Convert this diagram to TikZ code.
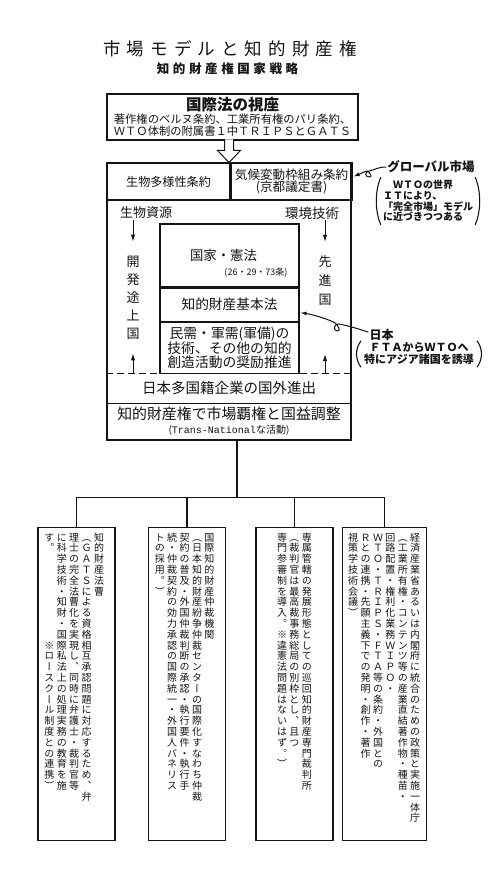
\documentclass[tikz,border=0pt]{standalone}
\usepackage{fontspec}
\setmainfont{Noto Sans CJK JP}
\newfontfamily\tatefont[RawFeature=+vert]{Noto Sans CJK JP}
\newfontfamily\latinmono{Liberation Mono}
\definecolor{ink}{RGB}{20, 20, 20}
\usetikzlibrary{arrows.meta, positioning, calc}
\makeatletter
% letter-spaced horizontal text
\newcommand\spread[2]{\def\spread@gap{#1}\spread@loop#2\relax\hskip-#1\relax}
\def\spread@loop#1{\ifx\relax#1\else#1\hskip\spread@gap\relax\expandafter\spread@loop\fi}
% one column of vertical text
\def\tate@loop#1{\ifx\relax#1\else\hbox to 10pt{\hss#1\hss}\expandafter\tate@loop\fi}
\newcommand\tatecol[1]{\vtop{\tatefont\fontsize{10}{10.8}\selectfont\lineskiplimit=-\maxdimen\tate@loop#1\relax}}
\makeatother
\newcommand\tsep{\hskip 2.4pt}
\newcommand\tatepanel[3][77pt]{\vbox to 313pt{\vskip 5pt\hbox to #1{\hss#3\hskip #2}\vss}}
\tikzset{
	wakubox/.style={rectangle, draw=ink, line width=1.1pt, inner sep=0pt},
	cell/.style={rectangle, draw=ink, line width=1.1pt, align=center, inner sep=1pt, text=ink},
	plain/.style={align=center, inner sep=1pt, text=ink},
	lawbox/.style={rectangle, draw=ink, line width=2pt, align=center, inner sep=1pt, minimum width=251pt, minimum height=46pt, text=ink},
	tatebox/.style={rectangle, draw=ink, line width=1.4pt, inner sep=0pt, minimum width=77pt, minimum height=313pt, anchor=north, text=ink},
	arrow/.style={-{Latex[length=7pt, width=4.5pt]}, line width=1pt, draw=ink},
	loopline/.style={-{Latex[length=6pt, width=4pt]}, line width=1pt, draw=ink},
	dashline/.style={dash pattern=on 7pt off 4pt, line width=1.1pt, draw=ink},
	hollow/.style={line width=1pt, draw=ink, fill=white},
	tree/.style={line width=1.3pt, draw=ink},
	paren/.style={line width=1.1pt, draw=ink},
}

\begin{document}
\begin{tikzpicture}[x=1pt, y=-1pt]
	\useasboundingbox (0,0) rectangle (500,876);
	% titles
	\node[plain, font=\fontsize{17.5}{20}\selectfont] (title) at (230,49) {\spread{6.1pt}{市場モデルと知的財産権}};
	\node[plain, font=\fontsize{12.5}{14}\selectfont\bfseries] (subtitle) at (227.5,69) {\spread{3.6pt}{知的財産権国家戦略}};
	\node[lawbox, font=\fontsize{11.3}{12}\selectfont] (kokusai) at (232.5,117) {{\fontsize{15.5}{16}\selectfont\bfseries 国際法の視座}\\[1pt]著作権のベルヌ条約、工業所有権のパリ条約、\\ＷＴＯ体制の附属書１中ＴＲＩＰＳとＧＡＴＳ};

	% market frame
	\node[wakubox, minimum width=244pt, minimum height=277pt] (waku) at (229,301.5) {};
	\node[cell, minimum width=123pt, minimum height=37pt, font=\fontsize{12.1}{13}\selectfont] (bio) at (168.5,181.5) {生物多様性条約};
	\node[cell, minimum width=121pt, minimum height=37pt, font=\fontsize{12.6}{12.5}\selectfont, right=0pt of bio] (kiko) {気候変動枠組み条約\\(京都議定書)};
	\node[plain, font=\fontsize{13}{14}\selectfont] (seibutsu) at (146,213) {生物資源};
	\node[plain, font=\fontsize{13.5}{14}\selectfont] (kankyo) at (312,213) {環境技術};
	\node[plain, font=\fontsize{13}{18}\selectfont] (kaihatsu) at (133,297.5) {開\\発\\途\\上\\国};
	\node[plain, font=\fontsize{13}{19}\selectfont] (senshin) at (325,281) {先\\進\\国};
	\node[cell, minimum width=139pt, minimum height=63pt, font=\fontsize{13.4}{14}\selectfont] (kokka) at (229.5,255.5) {国家・憲法\hspace*{12pt}};
	\node[plain, font=\fontsize{9}{10}\selectfont] (jobun) at (256,273) {(26・29・73条)};
	\node[cell, minimum width=139pt, minimum height=33pt, font=\fontsize{13.7}{14}\selectfont, anchor=north] (kihon) at (kokka.south) {知的財産基本法};
	\node[cell, minimum width=139pt, minimum height=51pt, font=\fontsize{13.8}{13.2}\selectfont, anchor=north] (minju) at (kihon.south) {民需・軍需(軍備)の\\技術、その他の知的\\創造活動の奨励推進};
	\node[plain, minimum width=244pt, minimum height=31pt, font=\fontsize{14.5}{15}\selectfont] (shinshutsu) at (229,387.5) {日本多国籍企業の国外進出};
	\node[plain, minimum width=244pt, minimum height=37pt, font=\fontsize{14.9}{15}\selectfont] (haken) at (229,421.5) {知的財産権で市場覇権と国益調整\\[-1pt]{\fontsize{10}{10}\selectfont({\latinmono Trans-National}な活動)}};
	\draw[line width=1.1pt, draw=ink] (shinshutsu.south west) -- (shinshutsu.south east);
	\draw[dashline] (waku.west |- minju.south) -- (minju.south west);
	\draw[dashline] (minju.south east) -- (waku.east |- minju.south);
	\draw[hollow] ($(waku.north)+(-4.5,-23)$) -- ++(0,11) -- ++(-7,0) -- (waku.north) -- ++(11.5,-12) -- ++(-7,0) -- ++(0,-11);
	\draw[arrow, shorten >=13pt] (kaihatsu.north |- seibutsu.south) -- (kaihatsu.north);
	\draw[arrow, shorten >=13pt] (senshin.north |- kankyo.south) -- (senshin.north);
	\draw[arrow, shorten >=13pt] (kaihatsu.south |- minju.south) -- (kaihatsu.south);
	\draw[arrow, shorten >=47pt] (senshin.south |- minju.south) -- (senshin.south);

	% side notes
	\node[plain, font=\fontsize{12.5}{13}\selectfont\bfseries] (global) at (431,167) {グローバル市場};
	\node[plain, align=left, inner xsep=3pt, inner ysep=3pt, font=\fontsize{10}{10.6}\selectfont\bfseries] (gnote) at (428,201) {\hspace*{1em}ＷＴＯの世界\\ＩＴにより、\\「完全市場」モデル\\に近づきつつある};
	\draw[paren] ([xshift=1pt]gnote.north west) .. controls ([xshift=-5pt,yshift=-14pt]gnote.north west) and ([xshift=-5pt,yshift=14pt]gnote.south west) .. ([xshift=1pt]gnote.south west);
	\draw[paren] ([xshift=-1pt]gnote.north east) .. controls ([xshift=5pt,yshift=-14pt]gnote.north east) and ([xshift=5pt,yshift=14pt]gnote.south east) .. ([xshift=-1pt]gnote.south east);
	\coordinate (gloop) at ($(global.west)+(-17,4)$);
	\draw[loopline] (global.west) .. controls +(-8,0) and +(5,-1) .. (gloop)
		.. controls +(-5,1) and +(-4,0) .. ($(gloop)+(0,6)$)
		.. controls +(4,0) and +(3,2) .. ($(gloop)+(-2,0)$)
		.. controls +(-4,1) and +(5,-2) .. ($(kiko.east)+(1,-5)$);
	\node[plain, font=\fontsize{12}{13}\selectfont\bfseries] (nihon) at (381.5,335) {日本};
	\node[plain, inner xsep=4pt, inner ysep=2pt, font=\fontsize{11}{12}\selectfont\bfseries] (nnote) at (419,354) {ＦＴＡからＷＴＯへ\\特にアジア諸国を誘導};
	\draw[paren] ([xshift=1pt]nnote.north west) .. controls ([xshift=-5pt,yshift=-8pt]nnote.north west) and ([xshift=-5pt,yshift=8pt]nnote.south west) .. ([xshift=1pt]nnote.south west);
	\draw[paren] ([xshift=-1pt]nnote.north east) .. controls ([xshift=5pt,yshift=-8pt]nnote.north east) and ([xshift=5pt,yshift=8pt]nnote.south east) .. ([xshift=-1pt]nnote.south east);
	\coordinate (nloop) at ($(nihon.west)+(-30,-11)$);
	\draw[loopline] ([yshift=3pt]nihon.west) .. controls +(-10,-3) and +(8,1) .. (nloop)
		.. controls +(-5,0) and +(-4,0) .. ($(nloop)+(-1,7)$)
		.. controls +(4,0) and +(3,3) .. ($(nloop)+(-3,-1)$)
		.. controls +(-10,-5) and +(12,2) .. ($(kihon.east)+(1,8)$);

	% four strategies (vertical text)
	\node[tatebox] (hoso) at (76.5,527) {\tatepanel{11pt}{%
		\tatecol{す。　　　　　　　　※ロースクール制度との連携）}\tsep
		\tatecol{に科学技術・知財・国際私法上の処理実務の教育を施}\tsep
		\tatecol{理士の完全法曹化を実現し、同時に弁護士・裁判官等}\tsep
		\tatecol{（ＧＡＴＳによる資格相互承認問題に対応するため、弁}\tsep
		\tatecol{知的財産法曹}}};
	\node[tatebox, right=32pt of hoso] (chusai) {\tatepanel{11pt}{%
		\tatecol{トの採用。）}\tsep
		\tatecol{続・仲裁契約の効力承認の国際統一・外国人パネリス}\tsep
		\tatecol{契約の普及・外国仲裁判断の承認・執行要件・執行手}\tsep
		\tatecol{（日本知的財産紛争仲裁センターの国際化すなわち仲裁}\tsep
		\tatecol{国際知的財産仲裁機関}}};
	\node[tatebox, right=29pt of chusai] (junkai) {\tatepanel{21pt}{%
		\tatecol{専門参審制を導入。※違憲法問題はないはず。）}\tsep
		\tatecol{（裁判官は最高裁事務総局の別枠とし、且つ}\tsep
		\tatecol{専属管轄の発展形態としての巡回知的財産専門裁判所}}};
	\node[tatebox, minimum width=84pt, right=8pt of junkai] (choho) {\tatepanel[84pt]{6pt}{%
		\tatecol{視策学技術会議）}\tsep
		\tatecol{Ｒとの連携・先願主義下での発明・創作・著作}\tsep
		\tatecol{ＷＴＯ・ＴＲＩＰＳ・ＦＴＡ等の条約・外国との}\tsep
		\tatecol{回路配置・権利化業務ＷＩＰＯ・}\tsep
		\tatecol{（工業所有権・コンテンツ等の産業直結著作物・種苗・}\tsep
		\tatecol{経済産業省あるいは内閣府に統合のための政策と実施一体庁}}};
	\coordinate (bunki) at ($(waku.south)+(8,57)$);
	\draw[tree] (bunki |- waku.south) -- (bunki);
	\draw[tree] (hoso.north) |- (bunki) -| (choho.north);
	\draw[tree] (chusai.north) |- (bunki);
	\draw[tree] (junkai.north) |- (bunki);
\end{tikzpicture}
\end{document}
